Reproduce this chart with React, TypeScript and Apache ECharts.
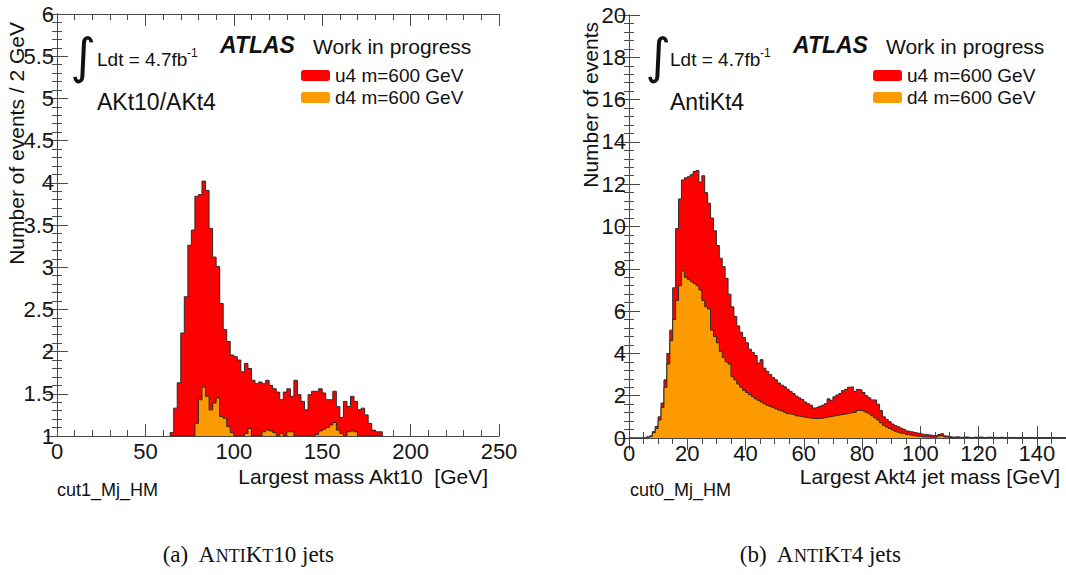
import React, { useEffect, useRef } from "react";
import * as echarts from "echarts";

// ---------- data ----------
const U4_NAME = "u4 m=600 GeV";
const D4_NAME = "d4 m=600 GeV";

// Panel (a): AntiKt10, bins of 2 GeV starting at 64 GeV
const akt10BinStart = 64;
const akt10BinWidth = 2;
const akt10U4 = [
  1.04, 1.33, 1.63, 2.22, 2.65, 3.26, 3.44, 3.84, 3.86, 4.02, 3.91, 3.46, 3.12, 3.01,
  2.57, 2.26, 2.12, 1.96, 1.94, 1.9, 1.76, 1.86, 1.8, 1.66, 1.62, 1.64, 1.62, 1.66,
  1.6, 1.56, 1.52, 1.43, 1.52, 1.56, 1.47, 1.66, 1.49, 1.41, 1.31, 1.49, 1.53, 1.53,
  1.56, 1.51, 1.43, 1.43, 1.53, 1.35, 1.22, 1.41, 1.35, 1.47, 1.41, 1.31, 1.33, 1.25,
  1.15, 1.07, 1.05, 1.05,
];
const akt10D4 = [
  1, 1, 1, 1, 1, 1, 1, 1.15, 1.43, 1.58, 1.47, 1.31, 1.39, 1.45, 1.23, 1.21, 1.11, 1.04,
  1, 1, 1, 1.03, 1.09, 1, 1, 1, 1.05, 1.07, 1.06, 1.04, 1, 1.03, 1, 1.05, 1.05, 1, 1, 1,
  1, 1, 1, 1.02, 1.06, 1.08, 1.1, 1.13, 1.16, 1.07, 1.03, 1, 1.05, 1.06, 1.05, 1, 1, 1,
  1, 1, 1, 1,
];

// Panel (b): AntiKt4, bins of 1 GeV starting at 0 GeV
const akt4BinStart = 0;
const akt4BinWidth = 1;
const akt4U4 = [
  0, 0, 0, 0, 0, 0, 0.05, 0.1, 0.3, 0.55, 1.0, 1.65, 2.75, 4.0, 5.1, 7.1, 9.9, 11.3, 12.2,
  12.3, 12.35, 12.45, 12.6, 12.65, 12.1, 12.4, 11.6, 11.1, 10.4, 9.8, 9.1, 8.5, 8.1, 7.55,
  6.8, 6.2, 5.75, 5.3, 5.0, 4.75, 4.5, 4.2, 4.05, 3.9, 3.55, 3.7, 3.3, 3.15, 3.0, 2.85,
  2.75, 2.6, 2.5, 2.42, 2.3, 2.2, 2.1, 1.98, 1.9, 1.82, 1.7, 1.62, 1.55, 1.42, 1.45, 1.5,
  1.55, 1.62, 1.85, 1.78, 1.95, 2.03, 2.1, 2.25, 2.3, 2.4, 2.42, 2.2, 2.3, 2.27, 2.15,
  2.0, 1.9, 1.8, 1.8, 1.6, 1.3, 1.0, 0.88, 0.77, 0.66, 0.58, 0.53, 0.46, 0.4, 0.33, 0.3,
  0.27, 0.24, 0.21, 0.18, 0.17, 0.15, 0.13, 0.11, 0.1, 0.16, 0.2, 0.1, 0.07,
  0.05, 0.04, 0.06, 0.03, 0.04, 0.05, 0.03, 0.02, 0.04, 0.03, 0.05, 0.02, 0.03, 0.04,
  0.02, 0.03, 0.02, 0.04, 0.02, 0.03, 0.02, 0.03, 0.02, 0.02, 0.03, 0.02, 0.02, 0.03,
  0.02, 0.02, 0.02, 0.01, 0.02, 0.02, 0.01, 0.02, 0.01, 0.02, 0.01, 0.01,
];
const akt4D4 = [
  0, 0, 0, 0, 0, 0, 0.04, 0.08, 0.25, 0.45, 0.85, 1.45, 2.4, 3.5, 4.6, 5.6, 6.5, 7.2, 7.9,
  7.6, 7.5, 7.4, 7.3, 7.2, 7.0, 6.5, 6.2, 6.1, 5.1, 4.8, 4.5, 4.1, 3.8, 3.6, 3.5, 2.9,
  2.75, 2.55, 2.4, 2.25, 2.15, 2.05, 1.95, 1.85, 1.78, 1.7, 1.62, 1.55, 1.5, 1.45, 1.38,
  1.32, 1.28, 1.22, 1.15, 1.12, 1.1, 1.05, 1.02, 1.0, 0.97, 0.95, 0.93, 0.92, 0.92, 0.93,
  0.95, 0.98, 1.0, 1.03, 1.05, 1.08, 1.1, 1.12, 1.15, 1.18, 1.2, 1.22, 1.3, 1.32, 1.28,
  1.22, 1.15, 1.05, 0.95, 0.85, 0.72, 0.6, 0.52, 0.45, 0.38, 0.32, 0.27, 0.23, 0.2, 0.16,
  0.13, 0.11, 0.09, 0.08, 0.06, 0.05, 0.05, 0.04, 0.04, 0.05, 0.1, 0.12, 0.05, 0.03,
  0.02, 0.02, 0.03, 0.01, 0.02, 0.02, 0.01, 0.01, 0.02, 0.01, 0.02, 0.01, 0.01, 0.02,
  0.01, 0.01, 0.02, 0.01, 0.01, 0.01, 0.02, 0.01, 0.01, 0.01, 0.01, 0.02, 0.01, 0.01,
  0.01, 0.01, 0.01, 0.01, 0.01, 0.01, 0.01, 0.01, 0.01, 0.01, 0.01, 0.01,
];

// axes
const akt10XRange = [0, 250];
const akt10XInterval = 50;
const akt10YRange = [1, 6];
const akt10YInterval = 0.5;
const akt4XRange = [0, 150];
const akt4XInterval = 20;
const akt4YRange = [0, 20];
const akt4YInterval = 2;

// ---------- styling ----------
const RED = "#ff0000";
const ORANGE = "#fd9a00";
const OUTLINE = "#2b2b2b";
const FRAME = "#4a4a4a";
const SANS = '"Liberation Sans", Arial, Helvetica, sans-serif';
const SERIF = '"Liberation Serif", "Times New Roman", serif';

function stepData(start: number, width: number, values: number[], base: number) {
  const pts: number[][] = [[start, base]];
  values.forEach((v, i) => pts.push([start + i * width, v]));
  const end = start + values.length * width;
  pts.push([end, values[values.length - 1]]);
  pts.push([end, base]);
  return pts;
}

function histSeries(name: string, color: string, data: number[][], axisIdx: number, z: number) {
  return {
    type: "line",
    name,
    xAxisIndex: axisIdx,
    yAxisIndex: axisIdx,
    data,
    step: "end",
    symbol: "none",
    silent: true,
    z,
    lineStyle: { color: OUTLINE, width: 1 },
    itemStyle: { color },
    areaStyle: { color, opacity: 1, origin: "start" },
  };
}

function xAxisDef(grid: number, range: number[], interval: number, minor: number, top: boolean) {
  return {
    type: "value",
    gridIndex: grid,
    position: top ? "top" : "bottom",
    min: range[0],
    max: range[1],
    interval,
    axisLine: { show: true, lineStyle: { color: FRAME, width: 1 } },
    axisTick: { show: true, inside: true, length: 12, lineStyle: { color: FRAME } },
    minorTick: { show: true, splitNumber: minor, length: 6, lineStyle: { color: FRAME } },
    splitLine: { show: false },
    minorSplitLine: { show: false },
    axisLabel: {
      show: !top,
      fontSize: 22,
      fontFamily: SANS,
      color: "#151515",
      margin: 4,
      showMaxLabel: range[1] % interval === 0,
    },
  };
}

function yAxisDef(grid: number, range: number[], interval: number, minor: number, right: boolean) {
  return {
    type: "value",
    gridIndex: grid,
    position: right ? "right" : "left",
    min: range[0],
    max: range[1],
    interval,
    axisLine: { show: true, lineStyle: { color: FRAME, width: 1 } },
    axisTick: { show: true, inside: true, length: 11, lineStyle: { color: FRAME } },
    minorTick: { show: true, splitNumber: minor, length: 5, lineStyle: { color: FRAME } },
    splitLine: { show: false },
    minorSplitLine: { show: false },
    axisLabel: {
      show: !right,
      fontSize: 22,
      fontFamily: SANS,
      color: "#151515",
      margin: 3,
    },
  };
}

function txt(x: number, y: number, text: string, fontSize: number, extra: any = {}) {
  return {
    type: "text",
    x,
    y,
    silent: true,
    style: {
      text,
      fontSize,
      fontFamily: SANS,
      fill: "#111",
      align: "left",
      verticalAlign: "middle",
      ...extra,
    },
  };
}

function panelTexts(dx: number, opts: { label: string; cut: string; xTitle: string; xTitleRight: number; yTitle: string; yTitleX: number; intX: number }) {
  return [
    txt(opts.intX, 56, "\u222B", 49, { align: "center", fontFamily: '"DejaVu Sans", sans-serif', fontWeight: "normal" }),
    txt(97 + dx, 59, "Ldt = 4.7fb", 19),
    txt(187 + dx, 53, "-1", 12),
    txt(220 + dx, 45, "ATLAS", 23, { fontWeight: "bold", fontStyle: "italic" }),
    txt(313 + dx, 46, "Work in progress", 21),
    txt(97 + dx, 102, opts.label, 23),
    txt(57 + dx, 490, opts.cut, 18),
    txt(opts.xTitleRight, 476, opts.xTitle, 21, { align: "right" }),
    {
      type: "text",
      x: opts.yTitleX,
      y: 22,
      rotation: Math.PI / 2,
      silent: true,
      style: {
        text: opts.yTitle,
        fontSize: 21,
        fontFamily: SANS,
        fill: "#111",
        align: "right",
        verticalAlign: "middle",
      },
    },
  ];
}

function caption(x: number, prefix: string, suffix: string) {
  return {
    type: "text",
    x,
    y: 553,
    silent: true,
    style: {
      text: "{n|" + prefix + "A}{sc|NTI}{n|K}{sc|T}{n|" + suffix + "}",
      fontSize: 23,
      fontFamily: SERIF,
      fill: "#111",
      align: "center",
      verticalAlign: "middle",
      rich: {
        n: { fontSize: 23, fontFamily: SERIF, fill: "#111", verticalAlign: "bottom", lineHeight: 26 },
        sc: { fontSize: 18, fontFamily: SERIF, fill: "#111", verticalAlign: "bottom", lineHeight: 26, padding: [0, 0, 1, 0] },
      },
    },
  };
}

function legendDef(left: number) {
  return {
    left,
    top: 61,
    orient: "vertical",
    itemWidth: 29,
    itemHeight: 11,
    itemGap: 3,
    icon: "roundRect",
    selectedMode: false,
    itemStyle: { borderWidth: 0 },
    textStyle: { fontSize: 19, fontFamily: SANS, color: "#111", padding: [0, 0, 0, 0] },
    data: [
      { name: U4_NAME, itemStyle: { color: RED, borderWidth: 0 } },
      { name: D4_NAME, itemStyle: { color: ORANGE, borderWidth: 0 } },
    ],
  };
}

export default function App() {
  const ref = useRef<HTMLDivElement>(null);

  useEffect(() => {
    if (!ref.current) return;
    const chart = echarts.init(ref.current, undefined, { renderer: "svg" });

    const option: any = {
      animation: false,
      backgroundColor: "#ffffff",
      grid: [
        { left: 57, top: 14, width: 442, height: 422, show: false },
        { left: 629, top: 15, width: 442, height: 423, show: false },
      ],
      xAxis: [
        xAxisDef(0, akt10XRange, akt10XInterval, 5, false),
        xAxisDef(0, akt10XRange, akt10XInterval, 5, true),
        xAxisDef(1, akt4XRange, akt4XInterval, 4, false),
        xAxisDef(1, akt4XRange, akt4XInterval, 4, true),
      ],
      yAxis: [
        yAxisDef(0, akt10YRange, akt10YInterval, 5, false),
        yAxisDef(0, akt10YRange, akt10YInterval, 5, true),
        yAxisDef(1, akt4YRange, akt4YInterval, 5, false),
        yAxisDef(1, akt4YRange, akt4YInterval, 5, true),
      ],
      legend: [legendDef(296), legendDef(868)],
      series: [
        histSeries(U4_NAME, RED, stepData(akt10BinStart, akt10BinWidth, akt10U4, akt10YRange[0]), 0, 2),
        histSeries(D4_NAME, ORANGE, stepData(akt10BinStart, akt10BinWidth, akt10D4, akt10YRange[0]), 0, 3),
        { ...histSeries(U4_NAME, RED, stepData(akt4BinStart, akt4BinWidth, akt4U4, akt4YRange[0]), 0, 2), xAxisIndex: 2, yAxisIndex: 2 },
        { ...histSeries(D4_NAME, ORANGE, stepData(akt4BinStart, akt4BinWidth, akt4D4, akt4YRange[0]), 0, 3), xAxisIndex: 2, yAxisIndex: 2 },
      ],
      graphic: [
        ...panelTexts(0, {
          label: "AKt10/AKt4",
          cut: "cut1_Mj_HM",
          xTitle: "Largest mass Akt10  [GeV]",
          xTitleRight: 488,
          yTitle: "Number of events / 2 GeV",
          yTitleX: 16,
          intX: 83,
        }),
        ...panelTexts(573, {
          label: "AntiKt4",
          cut: "cut0_Mj_HM",
          xTitle: "Largest Akt4 jet mass [GeV]",
          xTitleRight: 1060,
          yTitle: "Number of events",
          yTitleX: 590,
          intX: 658,
        }),
        caption(248, "(a)  ", "10 jets"),
        caption(820, "(b)  ", "4 jets"),
      ],
    };

    chart.setOption(option);
    return () => chart.dispose();
  }, []);

  return (
    <div
      ref={ref}
      style={{ position: "fixed", left: 0, top: 0, width: "1066px", height: "575px", background: "#fff" }}
    />
  );
}
